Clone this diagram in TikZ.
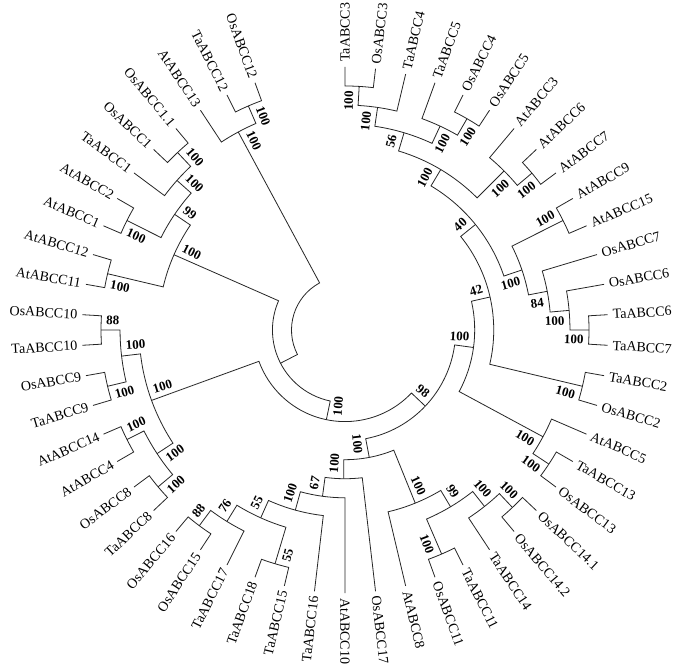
\documentclass[tikz,border=0pt]{standalone}
\usepackage{fontspec}
\setmainfont{Liberation Serif}
\newcommand\innd[5]{%
  \pgfmathsetmacro\mRa{53.5+19.05*(#1)}%
  \pgfmathsetmacro\mRb{53.5+19.05*(#3)}%
  \pgfmathsetmacro\mRc{53.5+19.05*(#5)}%
  \draw[br] (#2:\mRb pt) -- (#2:\mRa pt) arc[start angle=#2, end angle=#4, radius=\mRa pt] -- (#4:\mRc pt);%
}
\newcommand\bsv[5]{%
  \pgfmathsetmacro\bsR{53.5+19.05*(#2)-5}%
  \pgfmathsetmacro\bsA{#3+(#4)*10/\bsR*57.29578}%
  \pgfmathsetmacro\bsC{cos(#3)}%
  \ifdim\bsC pt>-0.001pt
    \node[bsl, rotate=\bsA, anchor=east] (#1) at (\bsA:\bsR pt) {#5};%
  \else
    \node[bsl, rotate=\bsA+180, anchor=west] (#1) at (\bsA:\bsR pt) {#5};%
  \fi
}
\newcommand\leafl[3]{%
  \pgfmathsetmacro\lfA{90-20*(#2)/3}%
  \pgfmathsetmacro\lfC{cos(\lfA)}%
  \ifdim\lfC pt>-0.001pt
    \node[leaf, rotate=\lfA, anchor=west] (#1) at (\lfA:268pt) {#3};%
  \else
    \node[leaf, rotate=\lfA+180, anchor=east] (#1) at (\lfA:268pt) {#3};%
  \fi
}
\begin{document}
\begin{tikzpicture}[x=1pt,y=1pt,
  br/.style={line width=0.8pt, black!85},
  leaf/.style={inner sep=0pt, font=\fontsize{14}{16}\selectfont},
  bsl/.style={inner sep=0pt, font=\bfseries\fontsize{13}{14}\selectfont}]
\useasboundingbox[fill=white] (0,0) rectangle (680,668);
\begin{scope}[shift={(345,338)}]
% ---------- right clade
\innd{10}{90}{11}{83.333}{11}
\innd{9}{86.667}{10}{76.667}{11}
\innd{10}{63.333}{11}{56.667}{11}
\innd{9}{70}{11}{60}{10}
\innd{8}{81.667}{9}{65}{9}
\innd{10}{43.333}{11}{36.667}{11}
\innd{9}{50}{11}{40}{10}
\innd{7}{73.333}{8}{45}{9}
\innd{10}{30}{11}{23.333}{11}
\innd{10}{3.333}{11}{-3.333}{11}
\innd{9}{10}{11}{0}{10}
\innd{8}{16.667}{11}{5}{9}
\innd{7}{26.667}{10}{10.833}{8}
\innd{6}{59.167}{7}{18.75}{7}
\innd{10}{-10}{11}{-16.667}{11}
\innd{5}{38.958}{6}{-13.333}{10}
\innd{10}{-30}{11}{-36.667}{11}
\innd{9}{-23.333}{11}{-33.333}{10}
\innd{4}{12.8125}{5}{-28.333}{9}
% ---------- bottom clade
\innd{10}{-43.333}{11}{-50}{11}
\innd{9}{-46.667}{10}{-56.667}{11}
\innd{10}{-63.333}{11}{-70}{11}
\innd{8}{-51.667}{9}{-66.667}{10}
\innd{7}{-59.167}{8}{-76.667}{11}
\innd{10}{-103.333}{11}{-110}{11}
\innd{10}{-123.333}{11}{-130}{11}
\innd{9}{-116.667}{11}{-126.667}{10}
\innd{8}{-106.667}{10}{-121.667}{9}
\innd{7}{-96.667}{11}{-114.167}{8}
\innd{6}{-90}{11}{-105.417}{7}
\innd{5}{-83.333}{11}{-97.708}{6}
\innd{4}{-67.917}{7}{-90.521}{5}
\innd{3}{-7.760}{4}{-79.219}{4}
% ---------- left-lower clade
\innd{10}{-176.667}{11}{-183.333}{11}
\innd{10}{-163.333}{11}{-170}{11}
\innd{9}{-166.667}{10}{-180}{10}
\innd{10}{-150}{11}{-156.667}{11}
\innd{10}{-136.667}{11}{-143.333}{11}
\innd{9}{-140}{10}{-153.333}{10}
\innd{8}{-146.667}{9}{-173.333}{9}
\innd{2}{-43.490}{3}{-160}{8}
% ---------- left-upper clade
\innd{10}{-223.333}{11}{-230}{11}
\innd{9}{-216.667}{11}{-226.667}{10}
\innd{10}{-203.333}{11}{-210}{11}
\innd{8}{-206.667}{10}{-221.667}{9}
\innd{10}{-190}{11}{-196.667}{11}
\innd{7}{-193.333}{10}{-214.167}{8}
\innd{1}{-101.745}{2}{-203.75}{7}
\innd{10}{-243.333}{11}{-250}{11}
\innd{9}{-236.667}{11}{-246.667}{10}
\innd{0}{-152.7475}{1}{-241.667}{9}
% ---------- bootstrap values
\bsv{s1}{10}{86.667}{1}{100}
\bsv{s2}{9}{81.667}{1}{100}
\bsv{s3}{10}{60}{-1}{100}
\bsv{s4}{9}{65}{-1}{100}
\bsv{s5}{8}{73.333}{1}{56}
\bsv{s6}{10}{40}{-1}{100}
\bsv{s7}{9}{45}{-1}{100}
\bsv{s8}{7}{59.167}{1}{100}
\bsv{s9}{10}{26.667}{1}{100}
\bsv{s10}{10}{0}{-1}{100}
\bsv{s11}{9}{5}{-1}{100}
\bsv{s12}{8}{10.833}{-1}{84}
\bsv{s13}{7}{18.75}{-1}{100}
\bsv{s14}{6}{38.958}{1}{40}
\bsv{s15}{10}{-13.333}{-1}{100}
\bsv{s16}{5}{12.8125}{1}{42}
\bsv{s17}{10}{-33.333}{-1}{100}
\bsv{s18}{9}{-28.333}{-1}{100}
\bsv{s19}{4}{-7.760}{1}{100}
\bsv{t1}{10}{-46.667}{1}{100}
\bsv{t2}{9}{-51.667}{1}{100}
\bsv{t3}{10}{-66.667}{-1}{100}
\bsv{t4}{8}{-59.167}{1}{99}
\bsv{t5}{7}{-67.917}{1}{100}
\bsv{t6}{10}{-106.667}{1}{55}
\bsv{t7}{10}{-126.667}{-1}{88}
\bsv{t8}{9}{-121.667}{-1}{76}
\bsv{t9}{8}{-114.167}{-1}{55}
\bsv{t10}{7}{-105.417}{-1}{100}
\bsv{t11}{6}{-97.708}{-1}{67}
\bsv{t12}{5}{-90.521}{-1}{100}
\bsv{t13}{4}{-79.219}{-1}{100}
\bsv{t14}{3}{-43.490}{1}{98}
\bsv{u1}{10}{-180}{-1}{88}
\bsv{u2}{10}{-166.667}{1}{100}
\bsv{u3}{9}{-173.333}{-1}{100}
\bsv{u4}{10}{-153.333}{-1}{100}
\bsv{u5}{10}{-140}{1}{100}
\bsv{u6}{9}{-146.667}{1}{100}
\bsv{u7}{8}{-160}{-1}{100}
\bsv{u8}{2}{-101.745}{1}{100}
\bsv{v1}{10}{-226.667}{-1}{100}
\bsv{v2}{9}{-221.667}{-1}{100}
\bsv{v3}{10}{-206.667}{1}{100}
\bsv{v4}{8}{-214.167}{-1}{99}
\bsv{v5}{10}{-193.333}{1}{100}
\bsv{v6}{7}{-203.75}{-1}{100}
\bsv{w1}{10}{-246.667}{-1}{100}
\bsv{w2}{9}{-241.667}{-1}{100}
% ---------- leaves
\leafl{L0}{0}{TaABCC3}
\leafl{L1}{1}{OsABCC3}
\leafl{L2}{2}{TaABCC4}
\leafl{L3}{3}{TaABCC5}
\leafl{L4}{4}{OsABCC4}
\leafl{L5}{5}{OsABCC5}
\leafl{L6}{6}{AtABCC3}
\leafl{L7}{7}{AtABCC6}
\leafl{L8}{8}{AtABCC7}
\leafl{L9}{9}{AtABCC9}
\leafl{L10}{10}{AtABCC15}
\leafl{L11}{11}{OsABCC7}
\leafl{L12}{12}{OsABCC6}
\leafl{L13}{13}{TaABCC6}
\leafl{L14}{14}{TaABCC7}
\leafl{L15}{15}{TaABCC2}
\leafl{L16}{16}{OsABCC2}
\leafl{L17}{17}{AtABCC5}
\leafl{L18}{18}{TaABCC13}
\leafl{L19}{19}{OsABCC13}
\leafl{L20}{20}{OsABCC14.1}
\leafl{L21}{21}{OsABCC14.2}
\leafl{L22}{22}{TaABCC14}
\leafl{L23}{23}{TaABCC11}
\leafl{L24}{24}{OsABCC11}
\leafl{L25}{25}{AtABCC8}
\leafl{L26}{26}{OsABCC17}
\leafl{L27}{27}{AtABCC10}
\leafl{L28}{28}{TaABCC16}
\leafl{L29}{29}{TaABCC15}
\leafl{L30}{30}{TaABCC18}
\leafl{L31}{31}{TaABCC17}
\leafl{L32}{32}{OsABCC15}
\leafl{L33}{33}{OsABCC16}
\leafl{L34}{34}{TaABCC8}
\leafl{L35}{35}{OsABCC8}
\leafl{L36}{36}{AtABCC4}
\leafl{L37}{37}{AtABCC14}
\leafl{L38}{38}{TaABCC9}
\leafl{L39}{39}{OsABCC9}
\leafl{L40}{40}{TaABCC10}
\leafl{L41}{41}{OsABCC10}
\leafl{L42}{42}{AtABCC11}
\leafl{L43}{43}{AtABCC12}
\leafl{L44}{44}{AtABCC1}
\leafl{L45}{45}{AtABCC2}
\leafl{L46}{46}{TaABCC1}
\leafl{L47}{47}{OsABCC1}
\leafl{L48}{48}{OsABCC1.1}
\leafl{L49}{49}{AtABCC13}
\leafl{L50}{50}{TaABCC12}
\leafl{L51}{51}{OsABCC12}
\end{scope}
\end{tikzpicture}
\end{document}
